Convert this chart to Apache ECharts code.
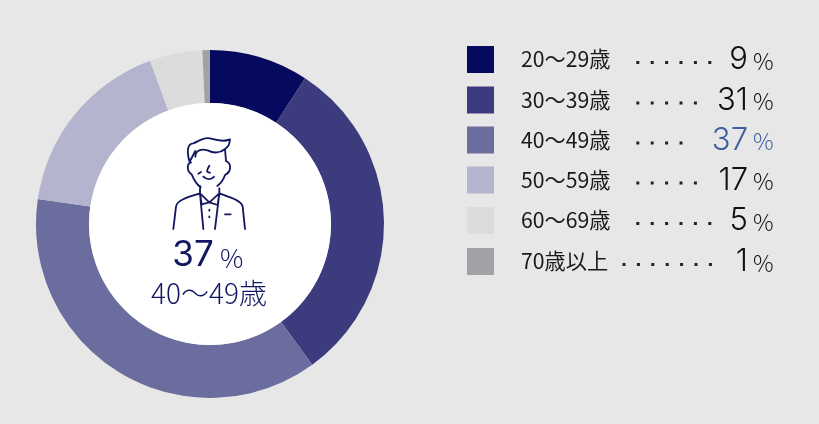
<!DOCTYPE html>
<html><head><meta charset="utf-8">
<style>html,body{margin:0;padding:0;background:#e7e7e7}#c{width:819px;height:424px}</style>
<script src="https://cdn.jsdelivr.net/npm/echarts@6/dist/echarts.min.js"></script></head>
<body><div id="c"></div>
<script>
const categories=['20～29歳','30～39歳','40～49歳','50～59歳','60～69歳','70歳以上'];
const values=[9,31,37,17,5,1];
const sliceValues=[9.2,30.8,37.3,17.1,4.9,0.7];
const colors=['#060a5e','#3c3b7d','#6c6d9f','#b4b4cf','#dcdcdc','#a1a1a7'];
const dotCounts=[6,5,4,5,6,7];
const highlight=2;
const F='"Noto Sans CJK JP"';
const navy='#12175f';
const rows=[60,100.5,140.5,180.5,221,262];
const g=[];
categories.forEach((c,i)=>{
  const y=rows[i];
  g.push({type:'rect',z:5,shape:{x:467,y:y-14,width:27,height:27},style:{fill:colors[i]}});
  g.push({type:'text',z:5,style:{x:521,y:y-1,text:c,font:'400 21.2px '+F,fill:'#1a1a1a',textVerticalAlign:'middle'}});
  const x0=i===5?622.5:636.3;
  for(let k=0;k<dotCounts[i];k++){
    g.push({type:'rect',z:5,shape:{x:x0+k*14.4,y:y+1,width:3,height:3},style:{fill:'#222'}});
  }
  const col=i===highlight?'#41609f':'#111';
  g.push({type:'text',z:5,style:{x:748,y:y,text:String(values[i]),font:'300 31px Inter',fill:col,textAlign:'right',textVerticalAlign:'middle'}});
  g.push({type:'text',z:5,style:{x:753,y:y+1,text:'%',font:'300 23px '+F,fill:col,textVerticalAlign:'middle'}});
});
const icon='M178 108C170 80 172 55 190 55C205 50 220 35 240 40C260 45 280 52 300 43C298 60 295 65 285 72'
+'M196 95C196 75 215 70 235 77C250 85 270 85 285 72L288 108'
+'M196 78L180 108M183 112C170 115 170 140 185 148C192 165 200 178 212 187'
+'M288 108C305 115 305 140 285 150C280 165 272 175 262 183'
+'M210 205L238 232L268 205L268 190M210 205L210 183'
+'M210 205L220 312M268 205L255 312M210 205L215 238L238 232L263 240L268 205'
+'M130 312L138 245C140 228 165 218 210 205M268 205C310 220 335 228 338 245L345 312'
+'M285 268L302 268M238 254L238 257M238 274L238 277'
+'M205 146L213 141M238 122C230 135 228 142 240 143M220 155C230 165 245 165 252 155';
echarts.graphic.registerShape('personIcon',echarts.graphic.extendPath(icon,{}));
g.push({type:'personIcon',z:5,x:130,y:125,scaleX:1/3,scaleY:1/3,
  style:{fill:'none',stroke:navy,lineWidth:5.5,lineCap:'round',lineJoin:'round'}});
g.push({type:'text',z:5,style:{x:193,y:255,text:String(values[highlight]),font:'400 35px Inter',fill:navy,textAlign:'center',textVerticalAlign:'middle'}});
g.push({type:'text',z:5,style:{x:220,y:258,text:'%',font:'300 26px '+F,fill:navy,textVerticalAlign:'middle'}});
g.push({type:'text',z:5,style:{x:209,y:293,text:categories[highlight],font:'300 28px '+F,fill:navy,textAlign:'center',textVerticalAlign:'middle'}});
const chart=echarts.init(document.getElementById('c'),null,{renderer:'canvas'});
chart.setOption({
  animation:false,
  backgroundColor:'#e7e7e7',
  series:[{type:'pie',center:[210,224],radius:[121,174],startAngle:90,clockwise:true,
    label:{show:false},labelLine:{show:false},silent:true,
    itemStyle:{borderWidth:0},
    data:categories.map((c,i)=>({name:c,value:sliceValues[i],itemStyle:{color:colors[i]}}))},
   {type:'pie',center:[210,224],radius:[0,121],silent:true,label:{show:false},labelLine:{show:false},
    data:[{name:'center',value:1,itemStyle:{color:'#fff'}}]}],
  graphic:{elements:g}
});
</script></body></html>
